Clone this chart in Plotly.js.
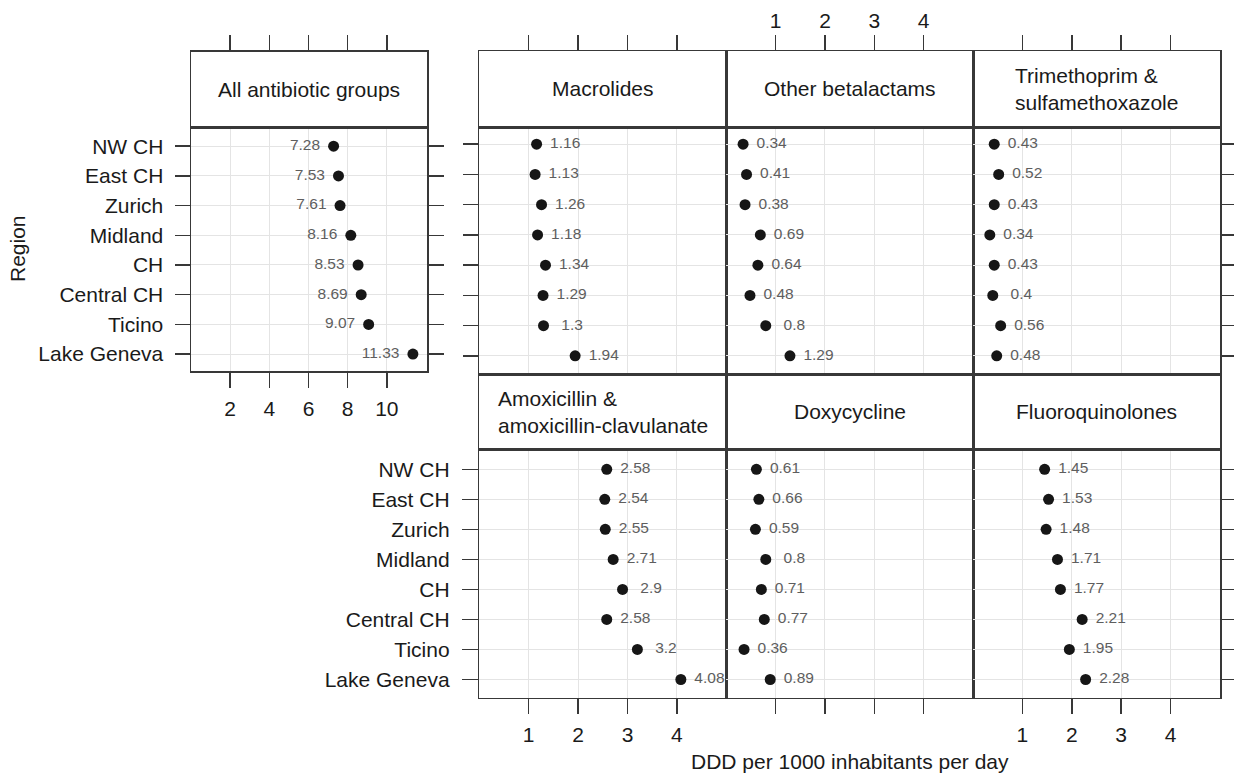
<!DOCTYPE html>
<html><head><meta charset="utf-8">
<script src="https://cdn.plot.ly/plotly-3.0.1.min.js"></script>
<style>html,body{margin:0;padding:0;background:#fff}</style></head>
<body><div id="chart" style="width:1234px;height:773px"></div>
<script>
// ---------------- data ----------------
const regions = ["NW CH","East CH","Zurich","Midland","CH","Central CH","Ticino","Lake Geneva"];
const allGroups        = [7.28, 7.53, 7.61, 8.16, 8.53, 8.69, 9.07, 11.33];
const macrolides       = [1.16, 1.13, 1.26, 1.18, 1.34, 1.29, 1.3, 1.94];
const otherBetalactams = [0.34, 0.41, 0.38, 0.69, 0.64, 0.48, 0.8, 1.29];
const trimethoprim     = [0.43, 0.52, 0.43, 0.34, 0.43, 0.4, 0.56, 0.48];
const amoxicillin      = [2.58, 2.54, 2.55, 2.71, 2.9, 2.58, 3.2, 4.08];
const doxycycline      = [0.61, 0.66, 0.59, 0.8, 0.71, 0.77, 0.36, 0.89];
const fluoroquinolones = [1.45, 1.53, 1.48, 1.71, 1.77, 2.21, 1.95, 2.28];
const panelNames = ["All antibiotic groups","Macrolides","Other betalactams",
  "Trimethoprim &<br>sulfamethoxazole","Amoxicillin &<br>amoxicillin-clavulanate",
  "Doxycycline","Fluoroquinolones"];
const panelValues = [allGroups, macrolides, otherBetalactams, trimethoprim, amoxicillin, doxycycline, fluoroquinolones];
const allTicks = [2,4,6,8,10];
const groupTicks = [1,2,3,4];
const xTitle = "DDD per 1000 inhabitants per day";
const yTitle = "Region";

// ---------------- layout geometry (px) ----------------
const W = 1234, H = 773;
const fx = p => p / W, fy = p => 1 - p / H;
const cols = [[479.3,726.3],[726.3,973],[973,1220]];
const geo = [
  {x:[191,427], strip:[51.5,127.5], data:[127.5,371], yr:[-0.57,7.63], xr:[0,12.05]},
  {x:cols[0], strip:[51,127], data:[127,374], yr:[-0.6,7.57], xr:[0,5]},
  {x:cols[1], strip:[51,127], data:[127,374], yr:[-0.6,7.57], xr:[0,5]},
  {x:cols[2], strip:[51,127], data:[127,374], yr:[-0.6,7.57], xr:[0,5]},
  {x:cols[0], strip:[374,449.5], data:[449.5,697.5], yr:[-0.6,7.66], xr:[0,5]},
  {x:cols[1], strip:[374,449.5], data:[449.5,697.5], yr:[-0.6,7.66], xr:[0,5]},
  {x:cols[2], strip:[374,449.5], data:[449.5,697.5], yr:[-0.6,7.66], xr:[0,5]},
];
const cfg = [
  {bottomX:'labels', topX:'ticks', yMode:'both'},
  {bottomX:'', topX:'ticks', yMode:'left'},
  {bottomX:'', topX:'labels', yMode:''},
  {bottomX:'', topX:'ticks', yMode:'right'},
  {bottomX:'labels', topX:'', yMode:'leftlabels'},
  {bottomX:'ticks', topX:'', yMode:''},
  {bottomX:'labels', topX:'', yMode:'right'},
];

const FONT = "Liberation Sans, Arial, Helvetica, sans-serif";
const FS = 21;
const LINE = "#383838", GRID = "#e4e4e4";
const catOrder = regions.slice().reverse();

const traces = [];
const layout = {
  width: W, height: H, margin:{l:0,r:0,t:0,b:0},
  paper_bgcolor:"#fff", plot_bgcolor:"#fff",
  showlegend:false, hovermode:false,
  font:{family:FONT, size:FS, color:"#1a1a1a"},
  annotations:[], shapes:[]
};

function pad(v){ let s = String(v); while (s.length < 4) s = "\u00a0" + s; return s; }

geo.forEach((g, p) => {
  const n = p + 1, sn = p + 8;
  const xa = n === 1 ? 'x' : 'x' + n, ya = n === 1 ? 'y' : 'y' + n;
  const vals = panelValues[p];
  const ticksX = p === 0 ? allTicks : groupTicks;
  traces.push({type:'scatter', mode:'markers', x:vals, y:regions, xaxis:xa, yaxis:ya,
    marker:{size:11, color:'#161616'}, cliponaxis:false});
  traces.push({type:'scatter', mode:'markers+text', x:vals, y:regions, xaxis:xa, yaxis:ya,
    text: p === 0 ? vals.map(String) : vals.map(pad),
    textposition: p === 0 ? 'middle left' : 'middle right',
    textfont:{family:FONT, size:15.5, color:'#5e5e5e'},
    marker:{size:20, color:'rgba(0,0,0,0)'}});
  traces.push({type:'scatter', mode:'markers', x:[], y:[], xaxis:'x'+sn, yaxis:'y'+sn});

  const c = cfg[p];
  const xKey = n === 1 ? 'xaxis' : 'xaxis' + n, yKey = n === 1 ? 'yaxis' : 'yaxis' + n;
  layout[xKey] = {
    domain:[fx(g.x[0]), fx(g.x[1])], anchor: ya, range:g.xr, type:'linear',
    tickvals: ticksX, ticktext: ticksX.map(String),
    ticks: c.bottomX ? 'outside' : '', ticklen:15, tickwidth:1.5, tickcolor:LINE,
    showticklabels: c.bottomX === 'labels', ticklabelstandoff:3,
    tickfont:{size:FS, color:'#1a1a1a'},
    showgrid:true, gridcolor:GRID, gridwidth:1, zeroline:false,
    showline:true, linecolor:LINE, linewidth:1.5, mirror:true, fixedrange:true
  };
  const yAx = {
    domain:[fy(g.data[1]), fy(g.data[0])], anchor: xa, type:'category',
    categoryorder:'array', categoryarray:catOrder, range:g.yr,
    ticks:'', ticklen:15, tickwidth:1.5, tickcolor:LINE, showticklabels:false,
    ticklabelstandoff:7, tickfont:{size:FS, color:'#1a1a1a'},
    showgrid:true, gridcolor:GRID, gridwidth:1, zeroline:false,
    showline:true, linecolor:LINE, linewidth:1.5, mirror:true, fixedrange:true
  };
  if (c.yMode === 'both') { yAx.ticks = 'outside'; yAx.mirror = 'ticks'; yAx.showticklabels = true; }
  else if (c.yMode === 'left') { yAx.ticks = 'outside'; }
  else if (c.yMode === 'leftlabels') { yAx.ticks = 'outside'; yAx.showticklabels = true; yAx.ticklabelstandoff = 8; yAx.ticklen = 16; }
  else if (c.yMode === 'right') { yAx.ticks = 'outside'; yAx.side = 'right'; }
  layout[yKey] = yAx;

  layout['xaxis' + sn] = {
    domain:[fx(g.x[0]), fx(g.x[1])], anchor:'y'+sn, side:'top', range:g.xr, type:'linear',
    tickvals: ticksX, ticktext: ticksX.map(String),
    ticks: c.topX ? 'outside' : '', ticklen:15, tickwidth:1.5, tickcolor:LINE,
    showticklabels: c.topX === 'labels', ticklabelstandoff:-2,
    tickfont:{size:FS, color:'#1a1a1a'},
    showgrid:false, zeroline:false, showline:true, linecolor:LINE, linewidth:1.5, mirror:true, fixedrange:true
  };
  layout['yaxis' + sn] = {
    domain:[fy(g.strip[1]), fy(g.strip[0])], anchor:'x'+sn, range:[0,1],
    ticks:'', showticklabels:false, showgrid:false, zeroline:false,
    showline:true, linecolor:LINE, linewidth:1.5, mirror:true, fixedrange:true
  };
  layout.annotations.push({
    text: panelNames[p], xref:'paper', yref:'paper',
    x: fx((g.x[0] + g.x[1]) / 2), y: fy((g.strip[0] + g.strip[1]) / 2),
    xanchor:'center', yanchor:'middle', align:'left', showarrow:false,
    font:{family:FONT, size:FS, color:'#1a1a1a'}
  });
});

layout.annotations.push({text:xTitle, xref:'paper', yref:'paper', x:fx(849.6), y:fy(761.5),
  xanchor:'center', yanchor:'middle', showarrow:false, font:{family:FONT, size:FS, color:'#1a1a1a'}});
layout.annotations.push({text:yTitle, xref:'paper', yref:'paper', x:fx(17), y:fy(249),
  xanchor:'center', yanchor:'middle', textangle:-90, showarrow:false, font:{family:FONT, size:FS, color:'#1a1a1a'}});

Plotly.newPlot('chart', traces, layout, {staticPlot:true, displayModeBar:false});
</script>
</body></html>
